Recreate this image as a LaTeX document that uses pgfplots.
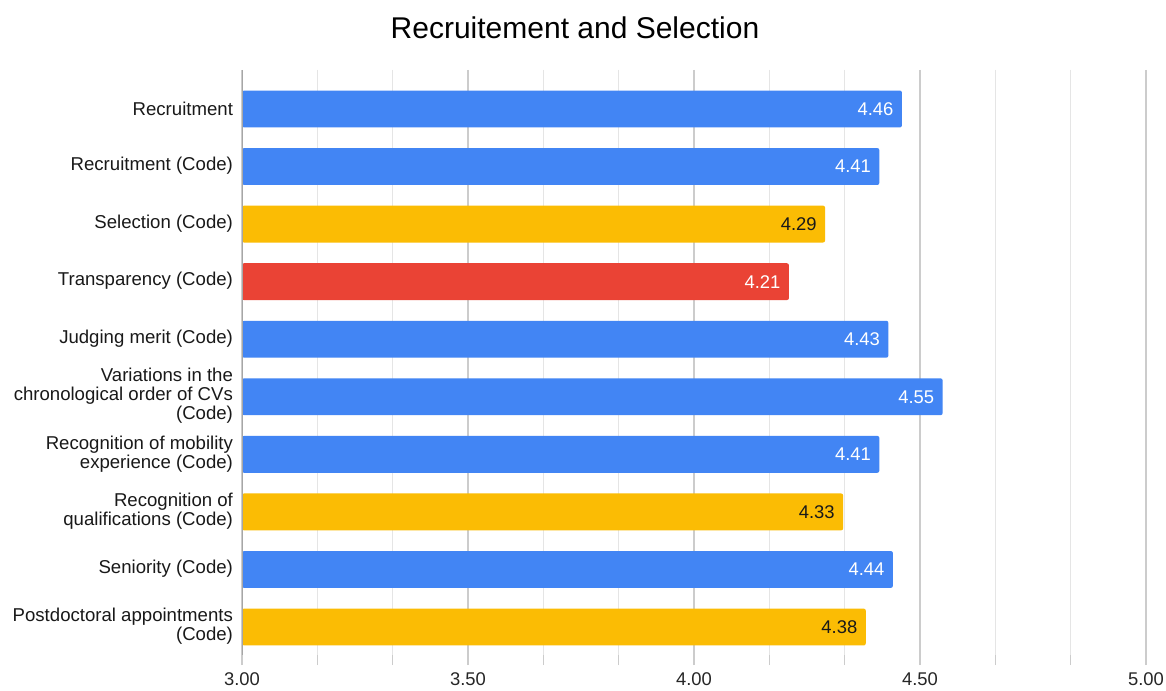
\documentclass[border=0pt]{standalone}
\usepackage{pgfplots}
\pgfplotsset{compat=1.18}
\usepackage{fontspec}
\setmainfont{Liberation Sans}
\definecolor{gblue}{HTML}{4285F4}
\definecolor{gyellow}{HTML}{FBBC04}
\definecolor{gred}{HTML}{EA4335}
\begin{document}
\begin{tikzpicture}
\useasboundingbox (0,0) rectangle (583pt,345pt);
\fill[white] (0,0) rectangle (583pt,345pt);
\node[font=\fontsize{15}{18}\selectfont] at (287.5pt,331pt) {Recruitement and Selection};
\begin{axis}[
  at={(121pt,17.5pt)}, anchor=south west,
  scale only axis, width=452pt, height=292.5pt,
  xmin=3, xmax=5, ymin=-0.677, ymax=9.486, y dir=reverse,
  xbar, bar width=0.64, bar shift=0pt,
  xtick={3,3.5,4,4.5,5}, minor x tick num=2,
  xmajorgrids, xminorgrids,
  major grid style={draw=black!20, line width=0.6pt},
  minor grid style={draw=black!10, line width=0.6pt},
  xtick pos=bottom, tick align=outside,
  major tick length=5pt, minor tick length=5pt,
  xtick style={draw=black!20, line width=0.6pt},
  minor tick style={draw=black!10, line width=0.6pt},
  ytick={0,...,9}, ytick style={draw=none},
  yticklabels={Recruitment, {Recruitment (Code)}, {Selection (Code)}, {Transparency (Code)}, {Judging merit (Code)}, {Variations in the\\chronological order of CVs\\(Code)}, {Recognition of mobility\\experience (Code)}, {Recognition of\\qualifications (Code)}, {Seniority (Code)}, {Postdoctoral appointments\\(Code)}},
  yticklabel style={align=right, font=\fontsize{9.3}{9.5}\selectfont, text=black!90, xshift=4pt, yshift=0.3pt},
  xticklabel style={font=\fontsize{9.2}{10}\selectfont, text=black!85, yshift=-0.5pt},
  /pgf/number format/fixed, /pgf/number format/fixed zerofill, /pgf/number format/precision=2, /pgf/number format/assume math mode=true,
  axis line style={draw=none},
  nodes near coords,
  every node near coord/.append style={anchor=east, xshift=-0.7pt, font=\fontsize{9.2}{10}\selectfont},
  clip=true,
]
\addplot[fill=gblue, draw=none, rounded corners=1pt, every node near coord/.append style={text=white}] coordinates {(4.46,0) (4.41,1) (4.43,4) (4.55,5) (4.41,6) (4.44,8)};
\addplot[fill=gyellow, draw=none, rounded corners=1pt, every node near coord/.append style={text=black!90}] coordinates {(4.29,2) (4.33,7) (4.38,9)};
\addplot[fill=gred, draw=none, rounded corners=1pt, every node near coord/.append style={text=white}] coordinates {(4.21,3)};
\draw[black!35, line width=0.8pt] (rel axis cs:0,0) -- (rel axis cs:0,1);
\end{axis}
\end{tikzpicture}
\end{document}
